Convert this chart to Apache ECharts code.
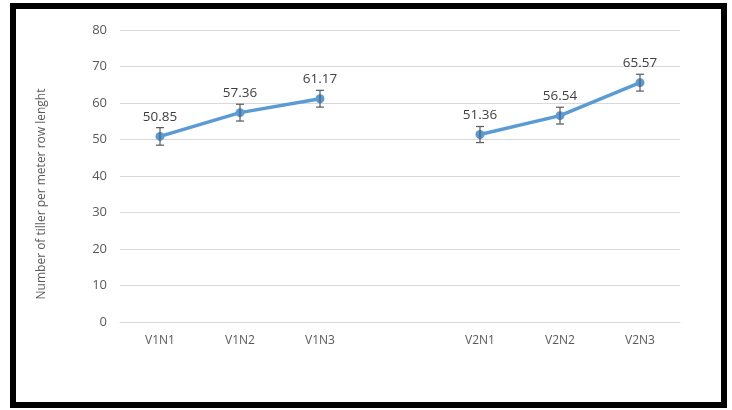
<!DOCTYPE html>
<html>
<head>
<meta charset="utf-8">
<script src="https://cdn.jsdelivr.net/npm/echarts@6/dist/echarts.min.js"></script>
<style>
  html, body { margin: 0; padding: 0; background: #fff; }
  #main { width: 732px; height: 410px; }
</style>
</head>
<body>
<div id="main"></div>
<script>
// data
var categories = ['V1N1', 'V1N2', 'V1N3', '', 'V2N1', 'V2N2', 'V2N3']
var tillers = [50.85, 57.36, 61.17, '-', 51.36, 56.54, 65.57]
var errors = [2.4, 2.3, 2.3, 0, 2.2, 2.3, 2.3]
var yTitle = 'Number of tiller per meter row lenght'

var myChart = echarts.init(document.getElementById('main'))

var errData = []
tillers.forEach(function (v, i) {
  if (v !== '-') errData.push([i, v - errors[i], v + errors[i]])
})

var option = {
  animation: false,
  textStyle: { fontFamily: 'Open Sans' },
  graphic: [
    {
      type: 'rect',
      shape: { x: 13, y: 6, width: 711, height: 399 },
      style: { fill: 'none', stroke: '#000', lineWidth: 6 }
    },
    {
      type: 'text',
      x: 42,
      y: 194,
      rotation: Math.PI / 2,
      style: {
        text: yTitle,
        fill: '#595959',
        fontSize: 12,
        fontFamily: 'Open Sans',
        align: 'center',
        verticalAlign: 'middle'
      }
    }
  ],
  grid: {
    left: 120,
    right: 52,
    top: 30,
    bottom: 88
  },
  xAxis: {
    type: 'category',
    data: categories,
    axisTick: { show: false },
    axisLine: { lineStyle: { color: '#d9d9d9' } },
    axisLabel: { color: '#595959', fontSize: 12, margin: 13 }
  },
  yAxis: {
    type: 'value',
    min: 0,
    max: 80,
    interval: 10,
    axisLine: { show: false },
    axisTick: { show: false },
    axisLabel: { color: '#595959', fontSize: 13, margin: 13 },
    splitLine: { lineStyle: { color: '#d9d9d9' } }
  },
  series: [
    {
      type: 'line',
      data: tillers,
      connectNulls: false,
      symbol: 'circle',
      symbolSize: 9,
      lineStyle: { color: '#5B9BD5', width: 3.5 },
      itemStyle: { color: '#5B9BD5' },
      label: {
        show: true,
        position: 'top',
        distance: 8,
        color: '#404040',
        fontSize: 13.5
      },
      z: 3
    },
    {
      type: 'custom',
      data: errData,
      z: 4,
      renderItem: function (params, api) {
        var x = api.value(0)
        var lo = api.coord([x, api.value(1)])
        var hi = api.coord([x, api.value(2)])
        var w = 4
        var st = { stroke: '#595959', lineWidth: 1.2 }
        return {
          type: 'group',
          children: [
            { type: 'line', shape: { x1: lo[0], y1: lo[1], x2: hi[0], y2: hi[1] }, style: st },
            { type: 'line', shape: { x1: lo[0] - w, y1: lo[1], x2: lo[0] + w, y2: lo[1] }, style: st },
            { type: 'line', shape: { x1: hi[0] - w, y1: hi[1], x2: hi[0] + w, y2: hi[1] }, style: st }
          ]
        }
      }
    }
  ]
}
myChart.setOption(option)
</script>
</body>
</html>
